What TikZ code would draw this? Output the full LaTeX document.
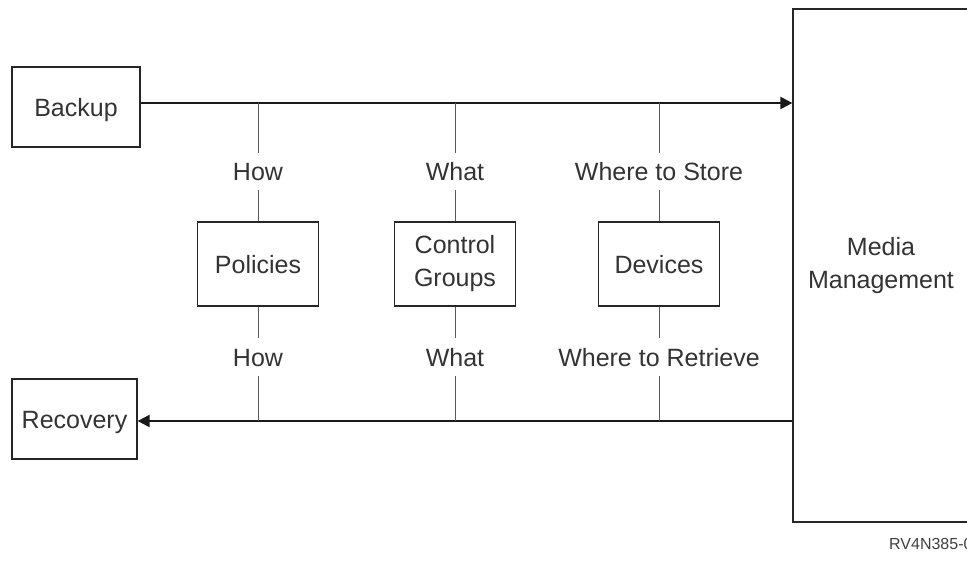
\documentclass[tikz,border=0pt]{standalone}
\usepackage{fontspec}
\setmainfont{Liberation Sans}
\usetikzlibrary{arrows.meta}
\begin{document}
\begin{tikzpicture}[x=1pt,y=-1pt,
  box/.style={draw=black!85, line width=1.2pt, inner sep=0pt, align=center,
    font=\fontsize{25}{33}\selectfont, text=black!80},
  onebox/.style={box, text height=18pt, text depth=0pt},
  colbox/.style={onebox, minimum width=121pt, minimum height=84pt},
  lbl/.style={inner sep=0pt, text height=18pt, text depth=0pt, minimum height=37pt,
    font=\fontsize{25}{33}\selectfont, text=black!80},
  flow/.style={line width=2pt, draw=black!90},
  tip/.style={-{Triangle[length=12pt,width=12pt]}},
  conn/.style={line width=1pt, draw=black!65}]
\path[use as bounding box, clip] (0,0) rectangle (967,565);

\node[onebox, minimum width=128pt, minimum height=80pt] (backup) at (76,107) {Backup};
\node[onebox, minimum width=125pt, minimum height=80pt] (recovery) at (74.5,419) {Recovery};
\node[box, minimum width=176pt, minimum height=513pt] (media) at (881,265.5) {Media\\Management};

\node[colbox] (pol) at (258,264) {Policies};
\node[box, minimum width=121pt, minimum height=84pt] (cg) at (455,264) {Control\\Groups};
\node[colbox] (dev) at (659,264) {Devices};

\node[lbl] (u1) at (258,171.5) {How};
\node[lbl] (u2) at (455,171.5) {What};
\node[lbl] (u3) at (659,171.5) {Where to Store};
\node[lbl] (l1) at (258,357) {How};
\node[lbl] (l2) at (455,357) {What};
\node[lbl] (l3) at (659,357) {Where to Retrieve};

\coordinate (bk) at ([yshift=4pt]backup.east);
\coordinate (rc) at ([yshift=-2pt]recovery.east);
\draw[flow,tip] (bk) -- (bk -| media.west);
\draw[flow,tip] (rc -| media.west) -- (rc);

\foreach \b/\u/\l in {pol/u1/l1, cg/u2/l2, dev/u3/l3}{
  \draw[conn] (bk -| \b.north) -- (\u.north);
  \draw[conn] (\u.south) -- (\b.north);
  \draw[conn] (\b.south) -- (\l.north);
  \draw[conn] (\l.south) -- (rc -| \b.south);
}

\node[anchor=base west, inner sep=0pt, font=\fontsize{16}{19}\selectfont, text=black!75] (rv) at (889,549) {RV4N385-0};
\end{tikzpicture}
\end{document}
